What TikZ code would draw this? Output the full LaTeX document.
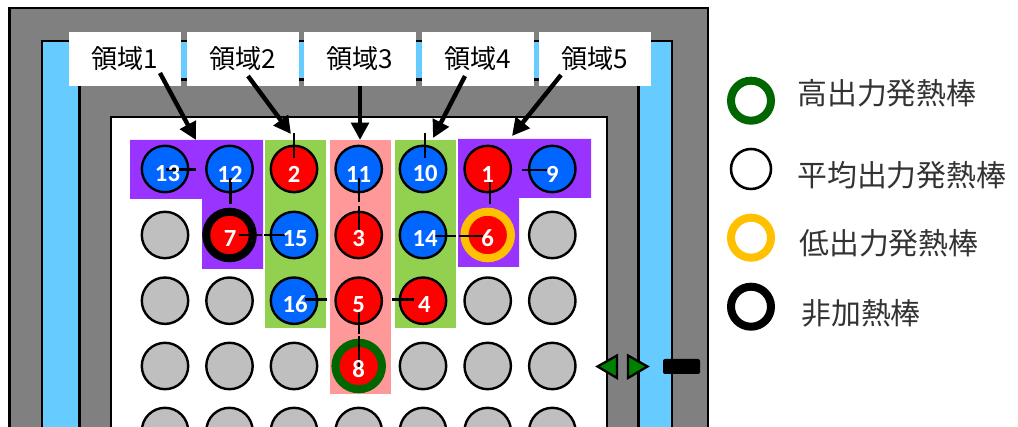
\documentclass[tikz,border=0pt]{standalone}
\usepackage{fontspec}
\usetikzlibrary{arrows.meta}
\setmainfont{Noto Sans CJK JP}
\newfontfamily\numfont{Carlito}
\definecolor{coolblue}{HTML}{66CCFF}
\definecolor{wallgray}{HTML}{808080}
\definecolor{rodgray}{HTML}{BFBFBF}
\definecolor{rodblue}{HTML}{0066FF}
\definecolor{zonepurple}{HTML}{9933FF}
\definecolor{zonegreen}{HTML}{92D050}
\definecolor{zonepink}{HTML}{FF9999}
\definecolor{ringgreen}{HTML}{006600}
\definecolor{ringorange}{HTML}{FFC000}
\definecolor{tipgreen}{HTML}{008000}
\begin{document}
\begin{tikzpicture}[x=.75pt, y=-.75pt,
    rod/.style={circle, draw=black, line width=1.8pt, inner sep=0pt, minimum size=34.8pt, fill=rodgray},
    num/.style={text=white, inner sep=0pt, font=\numfont\bfseries\fontsize{18.5}{18.5}\selectfont},
    redrod/.style={rod, fill=red},
    bluerod/.style={rod, fill=rodblue},
    ringrod/.style={circle, draw=#1, line width=6pt, inner sep=0pt, minimum size=34.9pt, fill=red},
    legring/.style={circle, draw=#1, line width=6pt, inner sep=0pt, minimum size=30pt},
    zonelabel/.style={fill=white, minimum width=84pt, minimum height=40.5pt, inner sep=0pt, font=\fontsize{19.6}{19.6}\selectfont},
    legtext/.style={anchor=west, inner sep=0pt, text=black!80, font=\fontsize{22.4}{22.4}\selectfont},
    zonearrow/.style={-{Triangle[length=13pt, width=13pt]}, line width=3.3pt},
    stub/.style={line width=1.7pt},
    marker/.style={draw=black, line width=1.7pt, fill=tipgreen, line join=miter}]

\clip (0,0) rectangle (1018,427);

% vessel walls
\draw[fill=wallgray, line width=2pt] (9.5,8) rectangle (708,450);
\draw[fill=coolblue, line width=2pt] (42,41) rectangle (672,450);
\draw[fill=wallgray, line width=2pt] (79.5,79.5) rectangle (638.5,450);
\draw[fill=white, line width=2pt] (111,117) rectangle (607,450);

% zones
\fill[zonepurple] (130,140) -- (263,140) -- (263,269) -- (202,269) -- (202,199) -- (130,199) -- cycle;
\fill[zonegreen] (265,140) rectangle (326,328);
\fill[zonepink] (330,140) rectangle (391,394);
\fill[zonegreen] (395,140) rectangle (456,328);
\fill[zonepurple] (458,139) -- (591,139) -- (591,198) -- (519,198) -- (519,267) -- (458,267) -- cycle;

% numbered rods
\node[bluerod] (r13) at (165,169) {};
\node[bluerod] (r12) at (229.5,169) {};
\node[redrod] (r2) at (294,169) {};
\node[bluerod] (r11) at (358.7,169) {};
\node[bluerod] (r10) at (423,169) {};
\node[redrod] (r1) at (487.7,169) {};
\node[bluerod] (r9) at (552.3,169) {};
\node[ringrod=black] (r7) at (229.5,235) {};
\node[bluerod] (r15) at (294,235) {};
\node[redrod] (r3) at (358.7,235) {};
\node[bluerod] (r14) at (423,235) {};
\node[ringrod=ringorange] (r6) at (487.7,235) {};
\node[bluerod] (r16) at (294,300.7) {};
\node[redrod] (r5) at (358.7,300.7) {};
\node[redrod] (r4) at (423,300.7) {};
\node[ringrod=ringgreen] (r8) at (358.7,366) {};

% plain rods
\node[rod] (g21) at (165,235) {};
\node[rod] (g27) at (552.3,235) {};
\node[rod] (g31) at (165,300.7) {};
\node[rod] (g32) at (229.5,300.7) {};
\node[rod] (g36) at (487.7,300.7) {};
\node[rod] (g37) at (552.3,300.7) {};
\node[rod] (g41) at (165,366) {};
\node[rod] (g42) at (229.5,366) {};
\node[rod] (g43) at (294,366) {};
\node[rod] (g45) at (423,366) {};
\node[rod] (g46) at (487.7,366) {};
\node[rod] (g47) at (552.3,366) {};
\node[rod] (g51) at (165,431) {};
\node[rod] (g52) at (229.5,431) {};
\node[rod] (g53) at (294,431) {};
\node[rod] (g54) at (358.7,431) {};
\node[rod] (g55) at (423,431) {};
\node[rod] (g56) at (487.7,431) {};
\node[rod] (g57) at (552.3,431) {};

% short marks on the rods
\draw[stub] ([shift={(1,0.5)}]r13.center) -- ([shift={(31,0.5)}]r13.center);
\draw[stub] ([shift={(1,9)}]r12.center) -- ([shift={(1,35)}]r12.center);
\draw[stub] ([shift={(0,-36)}]r2.center) -- ([shift={(0,-11)}]r2.center);
\draw[stub] ([shift={(0.3,9)}]r11.center) -- ([shift={(0.3,33)}]r11.center);
\draw[stub] ([shift={(0.3,-29)}]r3.center) -- ([shift={(0.3,-5)}]r3.center);
\draw[stub] ([shift={(2,-36)}]r10.center) -- ([shift={(2,-11)}]r10.center);
\draw[stub] ([shift={(2.5,13)}]r1.center) -- ([shift={(2.5,35)}]r1.center);
\draw[stub] ([shift={(-30,1)}]r9.center) -- ([shift={(-5,1)}]r9.center);
\draw[stub] ([shift={(9.5,-0.3)}]r7.center) -- ([shift={(32.5,-0.3)}]r7.center);
\draw[stub] ([shift={(-30,-0.3)}]r15.center) -- ([shift={(-7,-0.3)}]r15.center);
\draw[stub] ([shift={(12,1)}]r14.center) -- ([shift={(33,1)}]r14.center);
\draw[stub] ([shift={(-29,1)}]r6.center) -- ([shift={(-5,1)}]r6.center);
\draw[stub] ([shift={(11,-1.3)}]r16.center) -- ([shift={(33,-1.3)}]r16.center);
\draw[stub] ([shift={(-39,-1.3)}]r5.center) -- ([shift={(-32,-1.3)}]r5.center);
\draw[stub] ([shift={(-31,-1.3)}]r4.center) -- ([shift={(-9,-1.3)}]r4.center);
\draw[stub] ([shift={(0.3,11)}]r5.center) -- ([shift={(0.3,33)}]r5.center);
\draw[stub] ([shift={(0,-30)}]r8.center) -- ([shift={(0,4)}]r8.center);

% rod numbers
\node[num] (n13) at ([shift={(2.5,5)}]r13.center) {13};
\node[num] (n12) at ([shift={(0.5,5)}]r12.center) {12};
\node[num] (n2) at ([shift={(0,5)}]r2.center) {2};
\node[num] (n11) at ([shift={(0,5)}]r11.center) {11};
\node[num] (n10) at ([shift={(2,5)}]r10.center) {10};
\node[num] (n1) at ([shift={(0,5)}]r1.center) {1};
\node[num] (n9) at ([shift={(0,5)}]r9.center) {9};
\node[num] (n7) at ([shift={(0.5,3.4)}]r7.center) {7};
\node[num] (n15) at ([shift={(1,3.4)}]r15.center) {15};
\node[num] (n3) at ([shift={(0,3.4)}]r3.center) {3};
\node[num] (n14) at ([shift={(2,3.4)}]r14.center) {14};
\node[num] (n6) at ([shift={(0,3.4)}]r6.center) {6};
\node[num] (n16) at ([shift={(1,3.4)}]r16.center) {16};
\node[num] (n5) at ([shift={(0,3.4)}]r5.center) {5};
\node[num] (n4) at ([shift={(1.3,3.4)}]r4.center) {4};
\node[num] (n8) at ([shift={(0,3.5)}]r8.center) {8};

% control rod
\draw[marker] (597.5,366.5) -- (617,355.5) -- (617,378) -- cycle;
\draw[marker] (647.5,366.5) -- (628,355.5) -- (628,378) -- cycle;
\fill[black, rounded corners=1.5pt] (663,359) rectangle (700,374);

% zone labels
\node[zonelabel] (zone1) at (125,59) {領域1};
\node[zonelabel] (zone2) at (243,59) {領域2};
\node[zonelabel] (zone3) at (359.5,59) {領域3};
\node[zonelabel] (zone4) at (477.5,59) {領域4};
\node[zonelabel] (zone5) at (595,59) {領域5};

\coordinate (from1) at (160,73);
\coordinate (to1) at (196,140);
\coordinate (from2) at (248,76);
\coordinate (to2) at (291,134);
\coordinate (from3) at (360,86);
\coordinate (to3) at (360,140);
\coordinate (from4) at (465,76);
\coordinate (to4) at (433,138);
\coordinate (from5) at (561,75);
\coordinate (to5) at (512,136);
\draw[zonearrow] (from1) -- (to1);
\draw[zonearrow] (from2) -- (to2);
\draw[zonearrow] (from3) -- (to3);
\draw[zonearrow] (from4) -- (to4);
\draw[zonearrow] (from5) -- (to5);

% legend
\node[legring=ringgreen] (lhigh) at (751,100.7) {};
\node[circle, draw=black, line width=1.9pt, inner sep=0pt, minimum size=30pt] (lmean) at (751,169) {};
\node[legring=ringorange] (llow) at (751,237.7) {};
\node[legring=black] (lnone) at (751,306.7) {};
\node[legtext] (thigh) at (797,93) {高出力発熱棒};
\node[legtext] (tmean) at (797,175) {平均出力発熱棒};
\node[legtext] (tlow) at (799,243) {低出力発熱棒};
\node[legtext] (tnone) at (801,313) {非加熱棒};
\end{tikzpicture}
\end{document}
